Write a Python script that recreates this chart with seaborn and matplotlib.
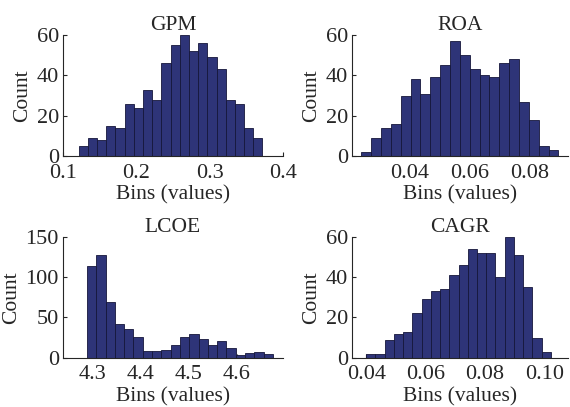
import numpy as np
import pandas as pd
import matplotlib
matplotlib.use('Agg')
import matplotlib.pyplot as plt
import seaborn as sns

# Histogram counts (20 bins per panel)
gpm_counts = [5, 9, 8, 15, 14, 26, 24, 33, 28, 46, 55, 60, 52, 56, 49, 43, 28, 26, 14, 9]
gpm_range = (0.1215, 0.372)

roa_counts = [2, 9, 14, 16, 30, 38, 31, 39, 45, 57, 50, 43, 40, 39, 46, 48, 27, 18, 5, 3]
roa_range = (0.0241, 0.0895)

lcoe_counts = [114, 128, 69, 42, 36, 26, 9, 8, 10, 16, 26, 30, 23, 16, 21, 12, 4, 6, 7, 5]
lcoe_range = (4.2875, 4.675)

cagr_counts = [2, 2, 9, 12, 13, 22, 29, 33, 34, 41, 46, 54, 52, 52, 40, 60, 51, 35, 10, 3]
cagr_range = (0.040, 0.1022)

titles = ['GPM', 'ROA', 'LCOE', 'CAGR']
x_limits = [(0.1, 0.4), (0.021, 0.0927), (4.2375, 4.696), (0.0352, 0.108)]
y_limits = [(0, 60), (0, 60), (0, 150), (0, 60)]
x_ticks = [[0.1, 0.2, 0.3, 0.4], [0.04, 0.06, 0.08], [4.3, 4.4, 4.5, 4.6], [0.04, 0.06, 0.08, 0.10]]
x_ticklabels = [['0.1', '0.2', '0.3', '0.4'], ['0.04', '0.06', '0.08'],
                ['4.3', '4.4', '4.5', '4.6'], ['0.04', '0.06', '0.08', '0.10']]
y_ticks = [[0, 20, 40, 60], [0, 20, 40, 60], [0, 50, 100, 150], [0, 20, 40, 60]]

sns.set_style("ticks")
plt.rcParams['font.family'] = ['Liberation Serif', 'DejaVu Serif']
fs = 15.5

fig = plt.figure(figsize=(5.7, 4.07), dpi=100)
positions = [[0.1105, 0.6167, 0.386, 0.297],
             [0.6175, 0.6167, 0.379, 0.297],
             [0.1105, 0.121, 0.386, 0.297],
             [0.6175, 0.121, 0.379, 0.297]]

all_counts = [gpm_counts, roa_counts, lcoe_counts, cagr_counts]
all_ranges = [gpm_range, roa_range, lcoe_range, cagr_range]

for i in range(4):
    ax = fig.add_axes(positions[i])
    counts = all_counts[i]
    edges = np.linspace(all_ranges[i][0], all_ranges[i][1], len(counts) + 1)
    df = pd.DataFrame({'value': (edges[:-1] + edges[1:]) / 2, 'count': counts})
    sns.histplot(data=df, x='value', weights='count', bins=list(edges), ax=ax,
                 color='#2e3478', alpha=1, edgecolor='#15163a', linewidth=0.6)
    ax.set_xlim(x_limits[i])
    ax.set_ylim(y_limits[i])
    ax.set_xticks(x_ticks[i])
    ax.set_xticklabels(x_ticklabels[i])
    ax.set_yticks(y_ticks[i])
    ax.set_title(titles[i], fontsize=fs, pad=3)
    ax.set_xlabel('Bins (values)', fontsize=fs, labelpad=2)
    ax.set_ylabel('Count', fontsize=fs, labelpad=3)
    ax.tick_params(direction='in', length=3, width=0.8, labelsize=16)
    ax.tick_params(axis='x', pad=5.5)
    ax.tick_params(axis='y', pad=3)
    sns.despine(ax=ax)
    ax.spines['bottom'].set_linewidth(0.8)
    ax.spines['left'].set_linewidth(0.8)

fig.savefig('out.png', dpi=100)
